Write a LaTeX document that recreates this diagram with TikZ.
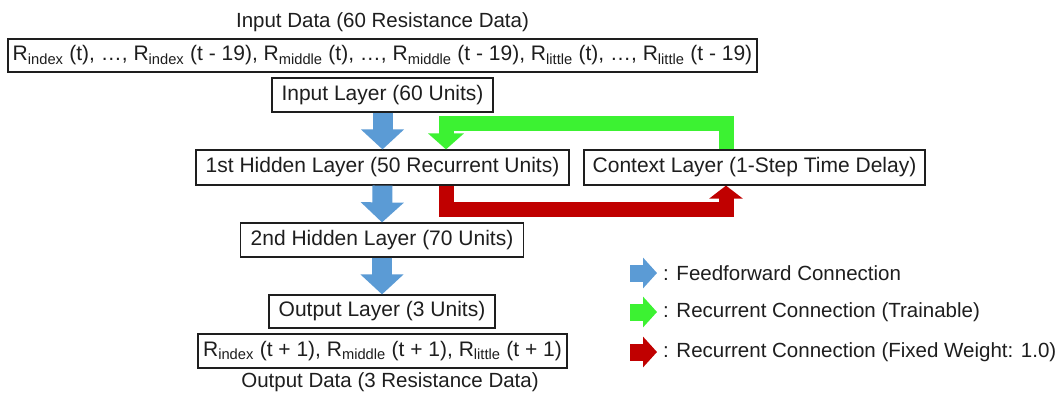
\documentclass[tikz,border=0pt]{standalone}
\usepackage{fontspec}
\setmainfont{Liberation Sans}
\usetikzlibrary{arrows.meta}
\definecolor{ffblue}{RGB}{91,155,213}
\definecolor{rgreen}{RGB}{60,242,50}
\definecolor{rred}{RGB}{192,0,0}
\definecolor{txt}{RGB}{30,30,30}
\begin{document}
\begin{tikzpicture}[x=1pt,y=-1pt,
  layerbox/.style={draw=txt, line width=1.2pt, inner sep=0pt, minimum height=34pt, text=txt, font=\fontsize{21}{24}\selectfont},
  lbl/.style={inner sep=0pt, text=txt, font=\fontsize{20.5}{24}\selectfont},
  ffarrow/.style={draw=ffblue, line width=20pt, -{Triangle[width=42pt,length=20pt]}},
  greenarrow/.style={draw=rgreen, line width=15pt, -{Triangle[width=35pt,length=16pt]}},
  redarrow/.style={draw=rred, line width=15pt, -{Triangle[width=33pt,length=13pt]}},
  legblue/.style={draw=ffblue, line width=17pt, -{Triangle[width=30pt,length=14pt]}},
  leggreen/.style={draw=rgreen, line width=17pt, -{Triangle[width=30pt,length=14pt]}},
  legred/.style={draw=rred, line width=17pt, -{Triangle[width=30pt,length=14pt]}}
]
\useasboundingbox (0,0) rectangle (1063,392);
\fill[white] (0,0) rectangle (1063,392);

\node[lbl] (indata) at (382.5,22) {Input Data (60 Resistance Data)};
\node[layerbox, minimum width=749pt, minimum height=33pt] (inrow) at (382.5,55.5)
  {R\textsubscript{index} (t), …, R\textsubscript{index} (t - 19), R\textsubscript{middle} (t), …, R\textsubscript{middle} (t - 19), R\textsubscript{little} (t), …, R\textsubscript{little} (t - 19)};
\node[layerbox, minimum width=221pt] (inlayer) at (382.5,95) {Input Layer (60 Units)};
\node[layerbox, minimum width=373pt, minimum height=35pt] (h1) at (382.5,167.5) {1st Hidden Layer (50 Recurrent Units)};
\node[layerbox, minimum width=341pt, minimum height=35pt] (ctx) at (754.5,167.5) {Context Layer (1-Step Time Delay)};
\node[layerbox, minimum width=283pt] (h2) at (382,240) {2nd Hidden Layer (70 Units)};
\node[layerbox, minimum width=226pt, minimum height=33pt] (outl) at (382,311.5) {Output Layer (3 Units)};
\node[layerbox, minimum width=369pt] (outrow) at (382.5,351)
  {R\textsubscript{index} (t + 1), R\textsubscript{middle} (t + 1), R\textsubscript{little} (t + 1)};
\node[lbl] (outdata) at (390,382) {Output Data (3 Resistance Data)};

\coordinate (gx) at (726,0);
\coordinate (lx) at (446,0);

\draw[ffarrow] (inlayer.south) -- (h1.north);
\draw[ffarrow] (h1.south) -- (h2.north);
\draw[ffarrow] (h2.south) -- (outl.north);

\draw[greenarrow] (ctx.north -| gx) -- ++(0,-26) -| (h1.north -| lx);
\draw[redarrow] (h1.south -| lx) -- ++(0,24) -| (ctx.south -| gx);

\node[lbl, anchor=west] (leg1) at (663,273) {: Feedforward Connection};
\node[lbl, anchor=west] (leg2) at (663,312) {: Recurrent Connection (Trainable)};
\node[lbl, anchor=west] (leg3) at (663,352) {: Recurrent Connection (Fixed Weight: 1.0)};
\coordinate (lb1) at (630,273);
\coordinate (lb2) at (630,312);
\coordinate (lb3) at (630,352);
\draw[legblue] (lb1) -- ([xshift=-6pt]leg1.west);
\draw[leggreen] (lb2) -- ([xshift=-6pt]leg2.west);
\draw[legred] (lb3) -- ([xshift=-6pt]leg3.west);
\end{tikzpicture}
\end{document}
